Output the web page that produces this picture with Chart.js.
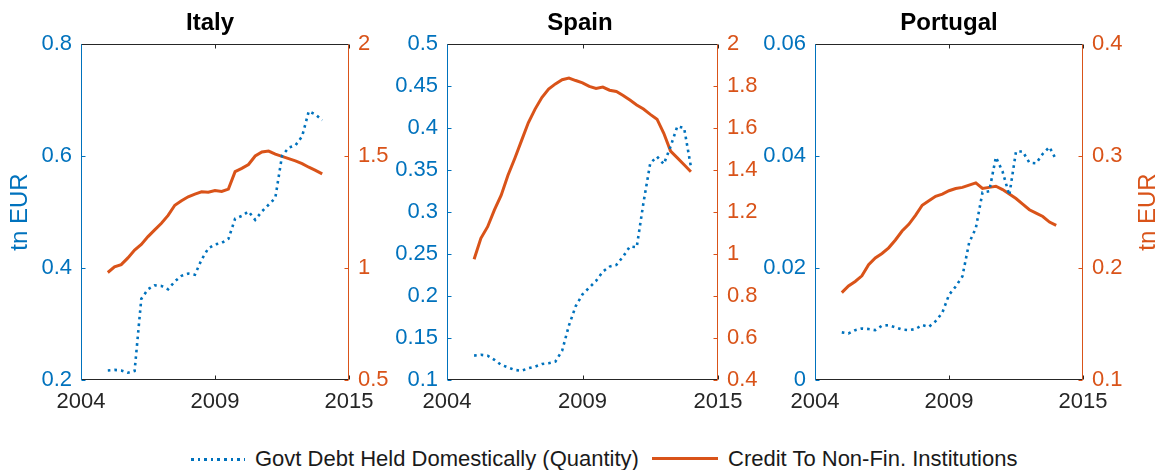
<!DOCTYPE html>
<html>
<head>
<meta charset="utf-8">
<script src="https://cdn.jsdelivr.net/npm/chart.js@4/dist/chart.umd.min.js"></script>
<style>
  html, body { margin: 0; padding: 0; background: #ffffff; }
  #wrap { position: relative; width: 1158px; height: 470px; overflow: hidden; font-family: "Liberation Sans", Arial, sans-serif; }
  canvas { position: absolute; top: 0; }
  .leg { position: absolute; }
  .legtxt { position: absolute; top: 445px; height: 28px; line-height: 28px; font-size: 22px; color: #1a1a1a; white-space: nowrap; }
</style>
</head>
<body>
<div id="wrap">
  <canvas id="c1" width="420" height="420" style="left:0px"></canvas>
  <canvas id="c2" width="420" height="420" style="left:370px"></canvas>
  <canvas id="c3" width="418" height="420" style="left:740px"></canvas>
  <div class="leg" style="left:191px; top:458px; width:54px; height:2.6px; background: repeating-linear-gradient(to right, #0072BD 0 2.6px, transparent 2.6px 6.6px);"></div>
  <div class="legtxt" style="left:255px;">Govt Debt Held Domestically (Quantity)</div>
  <div class="leg" style="left:652px; top:457px; width:66px; height:3px; background:#D95319;"></div>
  <div class="legtxt" style="left:728px;">Credit To Non-Fin. Institutions</div>
</div>
<script>
// ---------- data ----------
const quarters = [2005.00, 2005.25, 2005.50, 2005.75, 2006.00, 2006.25, 2006.50, 2006.75,
                  2007.00, 2007.25, 2007.50, 2007.75, 2008.00, 2008.25, 2008.50, 2008.75,
                  2009.00, 2009.25, 2009.50, 2009.75, 2010.00, 2010.25, 2010.50, 2010.75,
                  2011.00, 2011.25, 2011.50, 2011.75, 2012.00, 2012.25, 2012.50, 2012.75,
                  2013.00];

const italyDebt = [0.217, 0.218, 0.217, 0.213, 0.216, 0.345, 0.362, 0.369,
                   0.368, 0.362, 0.376, 0.386, 0.390, 0.388, 0.415, 0.435,
                   0.442, 0.445, 0.452, 0.488, 0.493, 0.501, 0.486, 0.501,
                   0.513, 0.525, 0.600, 0.615, 0.619, 0.635, 0.680, 0.674, 0.664];
const italyCredit = [0.98, 1.005, 1.015, 1.045, 1.08, 1.105, 1.14, 1.17,
                     1.20, 1.235, 1.28, 1.30, 1.318, 1.33, 1.34, 1.338,
                     1.346, 1.342, 1.352, 1.43, 1.445, 1.462, 1.50, 1.518,
                     1.522, 1.508, 1.498, 1.488, 1.478, 1.466, 1.45, 1.436, 1.42];

const spainDebt = [0.129, 0.130, 0.129, 0.124, 0.118, 0.115, 0.112, 0.111,
                   0.114, 0.116, 0.119, 0.120, 0.122, 0.135, 0.165, 0.188,
                   0.202, 0.210, 0.218, 0.229, 0.235, 0.237, 0.247, 0.259,
                   0.258, 0.311, 0.358, 0.366, 0.357, 0.378, 0.402, 0.400, 0.354];
const spainCredit = [0.975, 1.075, 1.13, 1.21, 1.28, 1.375, 1.455, 1.54,
                     1.625, 1.69, 1.745, 1.785, 1.81, 1.83, 1.838, 1.826,
                     1.815, 1.798, 1.788, 1.795, 1.780, 1.774, 1.755, 1.733,
                     1.710, 1.690, 1.665, 1.642, 1.575, 1.49, 1.458, 1.425, 1.392];

const portugalDebt = [0.0085, 0.0083, 0.0089, 0.0092, 0.0091, 0.0089, 0.0097, 0.0098,
                      0.0094, 0.0090, 0.0089, 0.0091, 0.0098, 0.0095, 0.0105, 0.0120,
                      0.0152, 0.0167, 0.0185, 0.0245, 0.0271, 0.0335, 0.0337, 0.0398,
                      0.0372, 0.0330, 0.0408, 0.0408, 0.0388, 0.0387, 0.0404, 0.0416, 0.0393];
const portugalCredit = [0.178, 0.184, 0.188, 0.193, 0.203, 0.209, 0.213, 0.218,
                        0.225, 0.233, 0.239, 0.247, 0.256, 0.260, 0.264, 0.266,
                        0.269, 0.271, 0.272, 0.274, 0.276, 0.271, 0.272, 0.273,
                        0.270, 0.266, 0.262, 0.257, 0.252, 0.249, 0.246, 0.241, 0.238];

// tick values and labels
const xTickValues = [2004, 2009, 2014];
const xTickLabels = ['2004', '2009', '2015'];
const italyLeftTicks = [0.2, 0.4, 0.6, 0.8];
const italyRightTicks = [0.5, 1, 1.5, 2];
const spainLeftTicks = [0.1, 0.15, 0.2, 0.25, 0.3, 0.35, 0.4, 0.45, 0.5];
const spainRightTicks = [0.4, 0.6, 0.8, 1, 1.2, 1.4, 1.6, 1.8, 2];
const portugalLeftTicks = [0, 0.02, 0.04, 0.06];
const portugalRightTicks = [0.1, 0.2, 0.3, 0.4];

const seriesNames = ['Govt Debt Held Domestically (Quantity)', 'Credit To Non-Fin. Institutions'];
const yTitle = 'tn EUR';

// ---------- style ----------
const BLUE = '#0072BD', ORANGE = '#D95319', DARK = '#262626';
const FONT = '"Liberation Sans", Arial, sans-serif';

const framePlugin = {
  id: 'frame',
  afterDraw(chart) {
    const { ctx, chartArea: a, scales } = chart;
    const tl = 4;
    const L = Math.round(a.left) + 0.5, R = Math.round(a.right) - 0.5;
    const T = Math.round(a.top) + 0.5, B = Math.round(a.bottom) - 0.5;
    ctx.save();
    ctx.lineWidth = 1;
    const seg = (x1, y1, x2, y2, c) => { ctx.strokeStyle = c; ctx.beginPath(); ctx.moveTo(x1, y1); ctx.lineTo(x2, y2); ctx.stroke(); };
    scales.x.ticks.forEach(t => {
      const px = Math.round(scales.x.getPixelForValue(t.value)) + 0.5;
      seg(px, B, px, B - tl, DARK);
      seg(px, T, px, T + tl, DARK);
    });
    scales.yL.ticks.forEach(t => {
      const py = Math.round(scales.yL.getPixelForValue(t.value)) + 0.5;
      seg(L, py, L + tl, py, BLUE);
    });
    scales.yR.ticks.forEach(t => {
      const py = Math.round(scales.yR.getPixelForValue(t.value)) + 0.5;
      seg(R, py, R - tl, py, ORANGE);
    });
    seg(L, T, R, T, DARK);
    seg(L, B, R, B, DARK);
    seg(L, T, L, B + 0.5, BLUE);
    seg(R, T, R, B + 0.5, ORANGE);
    ctx.restore();
  }
};

const axisTitlePlugin = {
  id: 'axisTitle',
  afterDraw(chart, args, o) {
    if (!o || !o.text) return;
    const { ctx, chartArea: a } = chart;
    ctx.save();
    ctx.translate(o.x, (a.top + a.bottom) / 2);
    ctx.rotate(-Math.PI / 2);
    ctx.font = '24px ' + FONT;
    ctx.fillStyle = o.color;
    ctx.textAlign = 'center';
    ctx.textBaseline = 'middle';
    ctx.fillText(o.text, 0, 0);
    ctx.restore();
  }
};

const fmt = v => String(Number(Number(v).toFixed(4)));

function makePanel(id, title, debt, credit, leftTicks, rightTicks, leftW, rightW, axTitle) {
  const ctx = document.getElementById(id);
  return new Chart(ctx, {
    type: 'line',
    data: {
      datasets: [
        { label: seriesNames[0], data: quarters.map((q, i) => ({ x: q, y: debt[i] })), yAxisID: 'yL',
          borderColor: BLUE, borderWidth: 2.6, borderDash: [2.6, 4], borderCapStyle: 'butt',
          pointRadius: 0, tension: 0, fill: false },
        { label: seriesNames[1], data: quarters.map((q, i) => ({ x: q, y: credit[i] })), yAxisID: 'yR',
          borderColor: ORANGE, borderWidth: 3, pointRadius: 0, tension: 0, fill: false }
      ]
    },
    options: {
      responsive: false,
      animation: false,
      events: [],
      layout: { padding: 0 },
      plugins: {
        legend: { display: false },
        tooltip: { enabled: false },
        title: { display: true, text: title, color: '#000000',
                 font: { family: FONT, size: 24, weight: 'bold', lineHeight: 1.2 },
                 padding: { top: 8.5, bottom: 6.7 } },
        axisTitle: axTitle || {}
      },
      scales: {
        x: {
          type: 'linear', position: 'bottom', min: 2004, max: 2014,
          grid: { display: false, drawTicks: false }, border: { display: false },
          afterBuildTicks: s => { s.ticks = xTickValues.map(v => ({ value: v })); },
          afterFit: s => { s.height = 40; },
          ticks: { color: DARK, font: { family: FONT, size: 22 }, padding: 9, maxRotation: 0, autoSkip: false,
                   callback: (v, i) => xTickLabels[i] }
        },
        yL: {
          type: 'linear', position: 'left', min: leftTicks[0], max: leftTicks[leftTicks.length - 1],
          grid: { display: false, drawTicks: false }, border: { display: false },
          afterBuildTicks: s => { s.ticks = leftTicks.map(v => ({ value: v })); },
          afterFit: s => { s.width = leftW; },
          ticks: { color: BLUE, font: { family: FONT, size: 22 }, padding: 9, autoSkip: false, callback: fmt }
        },
        yR: {
          type: 'linear', position: 'right', min: rightTicks[0], max: rightTicks[rightTicks.length - 1],
          grid: { display: false, drawTicks: false }, border: { display: false },
          afterBuildTicks: s => { s.ticks = rightTicks.map(v => ({ value: v })); },
          afterFit: s => { s.width = rightW; },
          ticks: { color: ORANGE, font: { family: FONT, size: 22 }, padding: 9, autoSkip: false, callback: fmt }
        }
      }
    },
    plugins: [framePlugin, axisTitlePlugin]
  });
}

makePanel('c1', 'Italy', italyDebt, italyCredit, italyLeftTicks, italyRightTicks, 81, 71,
          { text: yTitle, color: BLUE, x: 20 });
makePanel('c2', 'Spain', spainDebt, spainCredit, spainLeftTicks, spainRightTicks, 77, 72, null);
makePanel('c3', 'Portugal', portugalDebt, portugalCredit, portugalLeftTicks, portugalRightTicks, 75, 75,
          { text: yTitle, color: ORANGE, x: 408 });
</script>
</body>
</html>
